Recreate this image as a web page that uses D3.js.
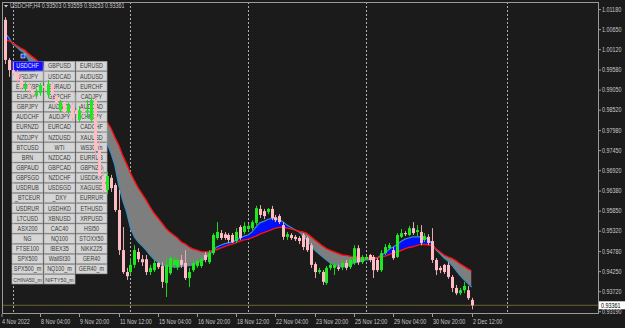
<!DOCTYPE html>
<html><head><meta charset="utf-8">
<script src="https://cdn.jsdelivr.net/npm/d3@7"></script>
<style>html,body{margin:0;padding:0;background:#1b1b1b;overflow:hidden}svg{display:block}</style>
</head><body><svg id="c" width="625" height="328"></svg>
<script>
// ---- data (USDCHF H4, 4 Nov 2022 16:00 .. 2 Dec 2022 12:00) ----
const open=[1.0091,0.9985,0.9958,0.9950,0.9937,0.9911,0.9919,0.9905,0.9892,0.9897,
0.9916,0.9892,0.9921,0.9890,0.9852,0.9874,0.9847,0.9866,0.9852,0.9826,
0.9852,0.9847,0.9826,0.9879,0.9747,0.9678,0.9641,0.9673,0.9654,0.9588,
0.9482,0.9424,0.9424,0.9443,0.9477,0.9458,0.9458,0.9424,0.9429,0.9448,
0.9440,0.9395,0.9421,0.9443,0.9437,0.9456,0.9448,0.9408,0.9429,0.9440,
0.9440,0.9469,0.9450,0.9474,0.9514,0.9527,0.9524,0.9522,0.9522,0.9506,
0.9543,0.9530,0.9538,0.9540,0.9554,0.9591,0.9585,0.9583,0.9591,0.9569,
0.9572,0.9548,0.9517,0.9522,0.9517,0.9514,0.9522,0.9514,0.9495,0.9445,
0.9424,0.9424,0.9395,0.9435,0.9435,0.9437,0.9437,0.9448,0.9437,0.9448,
0.9487,0.9450,0.9458,0.9469,0.9464,0.9456,0.9429,0.9474,0.9487,0.9482,
0.9464,0.9517,0.9527,0.9522,0.9540,0.9530,0.9530,0.9509,0.9517,0.9506,
0.9456,0.9435,0.9443,0.9443,0.9411,0.9382,0.9368,0.9376,0.9376,0.93503];
const high=[1.0098,0.9990,0.9979,0.9958,0.9945,0.9927,0.9924,0.9916,0.9908,0.9924,
0.9921,0.9932,0.9927,0.9895,0.9879,0.9879,0.9871,0.9871,0.9858,0.9863,
0.9866,0.9879,0.9884,0.9884,0.9773,0.9702,0.9688,0.9681,0.9659,0.9641,
0.9543,0.9435,0.9461,0.9495,0.9487,0.9469,0.9469,0.9443,0.9456,0.9450,
0.9450,0.9461,0.9469,0.9464,0.9461,0.9469,0.9482,0.9435,0.9453,0.9458,
0.9464,0.9477,0.9482,0.9527,0.9556,0.9535,0.9530,0.9527,0.9527,0.9540,
0.9548,0.9556,0.9551,0.9561,0.9599,0.9601,0.9591,0.9593,0.9599,0.9575,
0.9577,0.9556,0.9530,0.9527,0.9522,0.9519,0.9527,0.9519,0.9501,0.9450,
0.9435,0.9429,0.9440,0.9450,0.9448,0.9443,0.9456,0.9456,0.9461,0.9495,
0.9495,0.9469,0.9466,0.9472,0.9469,0.9461,0.9482,0.9498,0.9501,0.9490,
0.9527,0.9538,0.9532,0.9546,0.9556,0.9548,0.9548,0.9527,0.9524,0.9540,
0.9461,0.9440,0.9445,0.9450,0.9416,0.9390,0.9382,0.9398,0.9387,0.93559];
const low=[0.9974,0.9940,0.9942,0.9921,0.9905,0.9900,0.9897,0.9884,0.9887,0.9890,
0.9900,0.9884,0.9879,0.9863,0.9847,0.9839,0.9842,0.9821,0.9837,0.9821,
0.9839,0.9831,0.9821,0.9725,0.9667,0.9633,0.9630,0.9636,0.9583,0.9469,
0.9419,0.9403,0.9416,0.9435,0.9450,0.9440,0.9416,0.9416,0.9424,0.9432,
0.9382,0.9358,0.9416,0.9435,0.9429,0.9435,0.9403,0.9384,0.9424,0.9435,
0.9435,0.9450,0.9445,0.9469,0.9509,0.9509,0.9509,0.9501,0.9501,0.9501,
0.9509,0.9524,0.9532,0.9535,0.9548,0.9567,0.9564,0.9577,0.9561,0.9556,
0.9551,0.9509,0.9509,0.9509,0.9506,0.9498,0.9482,0.9477,0.9435,0.9408,
0.9419,0.9390,0.9390,0.9429,0.9416,0.9427,0.9429,0.9429,0.9432,0.9443,
0.9443,0.9445,0.9456,0.9450,0.9408,0.9424,0.9424,0.9469,0.9482,0.9456,
0.9461,0.9514,0.9519,0.9519,0.9522,0.9519,0.9495,0.9503,0.9495,0.9448,
0.9416,0.9421,0.9419,0.9406,0.9371,0.9363,0.9363,0.9368,0.9350,0.93253];
const close=[0.9985,0.9958,0.9950,0.9932,0.9911,0.9919,0.9905,0.9892,0.9900,0.9919,
0.9911,0.9921,0.9892,0.9871,0.9874,0.9847,0.9866,0.9831,0.9842,0.9852,
0.9847,0.9852,0.9879,0.9747,0.9678,0.9641,0.9678,0.9646,0.9588,0.9482,
0.9424,0.9413,0.9443,0.9482,0.9458,0.9450,0.9424,0.9435,0.9448,0.9437,
0.9398,0.9443,0.9461,0.9456,0.9456,0.9443,0.9408,0.9424,0.9448,0.9453,
0.9458,0.9456,0.9474,0.9522,0.9530,0.9514,0.9514,0.9509,0.9503,0.9530,
0.9514,0.9546,0.9546,0.9556,0.9593,0.9575,0.9572,0.9591,0.9567,0.9561,
0.9556,0.9517,0.9524,0.9514,0.9511,0.9506,0.9490,0.9482,0.9443,0.9424,
0.9429,0.9398,0.9435,0.9443,0.9443,0.9432,0.9448,0.9435,0.9456,0.9487,
0.9450,0.9464,0.9464,0.9456,0.9429,0.9429,0.9474,0.9490,0.9495,0.9461,
0.9522,0.9527,0.9524,0.9540,0.9527,0.9535,0.9501,0.9519,0.9501,0.9456,
0.9429,0.9429,0.9424,0.9411,0.9382,0.9368,0.9376,0.9387,0.9355,0.93361];
const maSlow=[1.0040,1.0035,1.0030,1.0023,1.0016,1.0011,1.0001,0.9993,0.9985,0.9974,
0.9966,0.9956,0.9948,0.9937,0.9929,0.9919,0.9911,0.9903,0.9895,0.9887,
0.9879,0.9868,0.9860,0.9850,0.9842,0.9831,0.9821,0.9805,0.9781,0.9760,
0.9733,0.9710,0.9686,0.9665,0.9646,0.9630,0.9614,0.9596,0.9580,0.9567,
0.9554,0.9540,0.9530,0.9522,0.9514,0.9503,0.9498,0.9490,0.9485,0.9482,
0.9478,0.9477,0.9478,0.9481,0.9483,0.9487,0.9491,0.9495,0.9498,0.9502,
0.9506,0.9509,0.9511,0.9515,0.9519,0.9524,0.9528,0.9532,0.9536,0.9540,
0.9542,0.9542,0.9540,0.9538,0.9535,0.9532,0.9530,0.9526,0.9518,0.9509,
0.9501,0.9493,0.9486,0.9481,0.9477,0.9473,0.9469,0.9468,0.9466,0.9465,
0.9464,0.9461,0.9461,0.9461,0.9461,0.9461,0.9464,0.9466,0.9470,0.9474,
0.9477,0.9481,0.9485,0.9489,0.9491,0.9494,0.9497,0.9497,0.9496,0.9493,
0.9485,0.9477,0.9469,0.9464,0.9460,0.9454,0.9446,0.9440,0.9433,0.9427];
const maFast=[1.0056,1.0043,1.0027,1.0019,1.0009,1.0003,0.9985,0.9969,0.9953,0.9937,
0.9927,0.9916,0.9911,0.9900,0.9890,0.9882,0.9874,0.9866,0.9860,0.9855,
0.9852,0.9850,0.9847,0.9831,0.9810,0.9786,0.9765,0.9739,0.9707,0.9654,
0.9614,0.9583,0.9540,0.9517,0.9503,0.9493,0.9482,0.9469,0.9458,0.9450,
0.9442,0.9440,0.9439,0.9437,0.9437,0.9439,0.9440,0.9441,0.9442,0.9448,
0.9452,0.9458,0.9469,0.9480,0.9490,0.9495,0.9499,0.9501,0.9503,0.9509,
0.9514,0.9519,0.9522,0.9530,0.9543,0.9554,0.9558,0.9563,0.9566,0.9566,
0.9563,0.9556,0.9548,0.9542,0.9536,0.9530,0.9519,0.9509,0.9495,0.9482,
0.9473,0.9464,0.9456,0.9448,0.9442,0.9439,0.9437,0.9439,0.9442,0.9448,
0.9450,0.9453,0.9456,0.9457,0.9458,0.9462,0.9469,0.9474,0.9485,0.9490,
0.9497,0.9505,0.9511,0.9514,0.9517,0.9517,0.9517,0.9515,0.9511,0.9498,
0.9482,0.9472,0.9461,0.9453,0.9442,0.9429,0.9416,0.9405,0.9395,0.9384];
const priceTicks=[1.01180,1.00650,1.00120,0.99580,0.99050,0.98520,0.97980,0.97450,
0.96920,0.96380,0.95850,0.95320,0.94780,0.94250,0.93720,0.93190];
const timeTickIdx=[0,9,19,29,39,49,59,69,79,89,99,109,119];
const timeTickLabels=["4 Nov 2022","8 Nov 04:00","9 Nov 20:00","11 Nov 12:00","15 Nov 04:00",
"16 Nov 20:00","18 Nov 12:00","22 Nov 04:00","23 Nov 20:00","25 Nov 12:00","29 Nov 04:00",
"30 Nov 20:00","2 Dec 12:00"];
const separatorIdx=[2,32,62,92,128];
const symbols=[
["USDCHF","GBPUSD","EURUSD"],["USDJPY","USDCAD","AUDUSD"],["EURGBP","EURAUD","EURCHF"],
["EURJPY","GBPCHF","CADJPY"],["GBPJPY","AUDNZD","AUDCAD"],["AUDCHF","AUDJPY","CHFJPY"],
["EURNZD","EURCAD","CADCHF"],["NZDJPY","NZDUSD","XAUUSD"],["BTCUSD","WTI","WS30_m"],
["BRN","NZDCAD","EURRUB"],["GBPAUD","GBPCAD","GBPNZD"],["GBPSGD","NZDCHF","USDDKK"],
["USDRUB","USDSGD","XAGUSD"],["_BTCEUR","_DXY","EURRUR"],["USDRUR","USDHKD","ETHUSD"],
["LTCUSD","XBNUSD","XRPUSD"],["ASX200","CAC40","HSI50"],["NG","NQ100","STOXX50"],
["FTSE100","IBEX35","NIKK225"],["SPX500","WallSt30","GER40"],["SPX500_m","NQ100_m","GER40_m"],
["CHINA50_m","NIFTY50_m"]];
const activeSymbol="USDCHF";
const titleText="USDCHF,H4  0.93503 0.93559 0.93253 0.93361";
const lastPrice=0.93361;

// ---- layout ----
const W=625,H=328;
const plot={l:2,r:598,t:2,b:313};
const FONT="'Liberation Sans', Arial, sans-serif";
const FS=6.6, SQ=0.82;
const svg=d3.select("#c");
svg.append("rect").attr("width",W).attr("height",H).attr("fill","#1b1b1b");

function squeeze(sel,k){
  sel.each(function(){const L=this.getComputedTextLength()*k;
    d3.select(this).attr("textLength",L).attr("lengthAdjust","spacingAndGlyphs");});
  return sel;
}

const x=d3.scaleLinear().domain([0,119]).range([5,471.5]);
const y=d3.scaleLinear().domain([0.93720,1.01180]).range([291.7,9.6]);

const defs=svg.append("defs");
defs.append("clipPath").attr("id","pc").append("rect")
  .attr("x",plot.l).attr("y",plot.t).attr("width",plot.r-plot.l).attr("height",plot.b-plot.t);
const n=close.length;
const idx=d3.range(n);
const aboveSlow=d3.area().x(i=>x(i)).y0(plot.t-5).y1(i=>y(maSlow[i]));
const belowSlow=d3.area().x(i=>x(i)).y0(i=>y(maSlow[i])).y1(plot.b+5);
defs.append("clipPath").attr("id","up").append("path").attr("d",aboveSlow(idx));
defs.append("clipPath").attr("id","dn").append("path").attr("d",belowSlow(idx));

const g=svg.append("g").attr("clip-path","url(#pc)");

// separators
g.selectAll("line.sep").data(separatorIdx).join("line")
  .attr("x1",d=>Math.round(x(d))+0.5).attr("x2",d=>Math.round(x(d))+0.5)
  .attr("y1",plot.t).attr("y2",plot.b)
  .attr("stroke","#b0b0b0").attr("stroke-width",1).attr("stroke-dasharray","2,2");

// current price line
g.append("line").attr("x1",plot.l).attr("x2",plot.r)
  .attr("y1",y(lastPrice)).attr("y2",y(lastPrice))
  .attr("stroke","#6a6430").attr("stroke-width",1);

// band between fast and slow
const band=d3.area().x(i=>x(i)).y0(i=>y(maSlow[i])).y1(i=>y(maFast[i]));
g.append("g").attr("clip-path","url(#up)").append("path").attr("d",band(idx)).attr("fill","#0010ff");
g.append("g").attr("clip-path","url(#dn)").append("path").attr("d",band(idx)).attr("fill","#7e7e7e");

const line=d3.line().x((d,i)=>x(i)).y(d=>y(d));
g.append("path").attr("d",line(maFast)).attr("fill","none").attr("stroke","#3b8ec0").attr("stroke-width",1.2);
g.append("path").attr("d",line(maSlow)).attr("fill","none").attr("stroke","#ff1010").attr("stroke-width",1.4);

// buttons panel
const bx0=12,by0=61.5,bw=31,bh=9.3,bdx=32,bdy=10.15;
const btn=svg.append("g");
symbols.forEach((row,r)=>row.forEach((s,c)=>{
  const gx=bx0+c*bdx, gy=by0+r*bdy, act=s===activeSymbol;
  btn.append("rect").attr("x",gx).attr("y",gy).attr("width",bw).attr("height",bh)
    .attr("fill",act?"#1010ff":"#d5d5d5").attr("stroke",act?"#6060ff":"#a9a9a9").attr("stroke-width",0.7);
  const t=btn.append("text").attr("x",gx+bw/2).attr("y",gy+bh/2+2.3).attr("text-anchor","middle")
    .attr("font-family",FONT).attr("font-size",FS).attr("fill",act?"#e8e8ff":"#3a3a3a").text(s);
  const L=t.node().getComputedTextLength(), room=bw-2.5;
  if(L*SQ<=room) squeeze(t,SQ);
  else t.attr("font-size",FS*room/L);
}));
// small trade marker above panel
svg.append("rect").attr("x",21).attr("y",54).attr("width",4).attr("height",4).attr("fill","#2040ff").attr("stroke","#fff").attr("stroke-width",0.6);

// candles
const cg=svg.append("g").attr("clip-path","url(#pc)");
const bull=i=>close[i]>open[i];
cg.selectAll("line.w").data(idx).join("line")
  .attr("x1",i=>Math.round(x(i))+0.5).attr("x2",i=>Math.round(x(i))+0.5)
  .attr("y1",i=>y(high[i])).attr("y2",i=>y(low[i]))
  .attr("stroke",i=>bull(i)?"#18d818":"#e8a8b0").attr("stroke-width",1);
cg.selectAll("rect.b").data(idx).join("rect")
  .attr("x",i=>Math.round(x(i))-1).attr("width",3)
  .attr("y",i=>y(Math.max(open[i],close[i])))
  .attr("height",i=>Math.max(1,Math.abs(y(open[i])-y(close[i]))))
  .attr("fill",i=>bull(i)?"#1ee81e":"#ffbcc4");

// frame
svg.append("rect").attr("x",plot.l+0.5).attr("y",plot.t+0.5).attr("width",plot.r-plot.l).attr("height",plot.b-plot.t)
  .attr("fill","none").attr("stroke","#9a9a9a").attr("stroke-width",1);

// price axis
const pa=svg.append("g");
priceTicks.forEach(p=>{
  const yy=y(p);
  pa.append("line").attr("x1",plot.r+0.5).attr("x2",plot.r+3).attr("y1",yy).attr("y2",yy).attr("stroke","#9a9a9a");
  squeeze(pa.append("text").attr("x",plot.r+4).attr("y",yy+2.3).attr("font-family",FONT).attr("font-size",FS)
    .attr("fill","#c8c8c8").text(p.toFixed(5)),SQ);
});
const ly=y(lastPrice);
pa.append("rect").attr("x",plot.r+1).attr("y",ly-4).attr("width",W-plot.r-1).attr("height",8).attr("fill","#ffffff");
squeeze(pa.append("text").attr("x",plot.r+3).attr("y",ly+2.4).attr("font-family",FONT).attr("font-size",FS)
  .attr("fill","#000").text(lastPrice.toFixed(5)),SQ);

// time axis
const ta=svg.append("g");
timeTickIdx.forEach((ti,k)=>{
  const xx=k===0?plot.l:Math.round(x(ti))+0.5;
  ta.append("line").attr("x1",xx).attr("x2",xx).attr("y1",plot.b+1).attr("y2",plot.b+4).attr("stroke","#9a9a9a");
  squeeze(ta.append("text").attr("x",xx+(k===0?0:0.5)).attr("y",plot.b+10.5).attr("font-family",FONT).attr("font-size",FS)
    .attr("fill","#c8c8c8").text(timeTickLabels[k]),SQ);
});

// title
svg.append("path").attr("d","M4,5 L8,5 L6,7.5 Z").attr("fill","#d0d0d0");
squeeze(svg.append("text").attr("x",10).attr("y",8.3).attr("font-family",FONT).attr("font-size",FS)
  .attr("fill","#c8c8c8").text(titleText),SQ);
</script></body></html>
